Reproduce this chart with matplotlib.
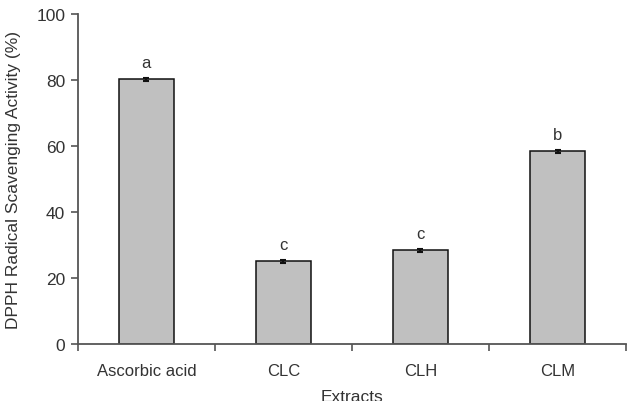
import matplotlib.pyplot as plt
import numpy as np

plt.rcParams['font.family'] = ['Liberation Sans', 'DejaVu Sans']

categories = ['Ascorbic acid', 'CLC', 'CLH', 'CLM']
values = [80.2, 25.0, 28.4, 58.4]
errors = [0.5, 0.5, 0.5, 0.5]
letters = ['a', 'c', 'c', 'b']


def main():
    fig = plt.figure(figsize=(6.33, 4.02), dpi=100)
    ax = fig.add_axes([0.123, 0.142, 0.866, 0.821])
    x = np.arange(len(categories))
    ax.bar(x, values, width=0.4, color='#c0c0c0', edgecolor='#111111', linewidth=1.1,
           yerr=errors, error_kw=dict(ecolor='#111111', elinewidth=1.5, capsize=2.5, capthick=1.5))
    for xi, v, e, t in zip(x, values, errors, letters):
        ax.text(xi, v + e + 2.2, t, ha='center', va='bottom', fontsize=12, color='#333333')

    ax.set_xlim(-0.5, len(categories) - 0.5)
    ax.set_ylim(0, 100)
    ax.set_yticks([0, 20, 40, 60, 80, 100])
    ax.set_xticks(x)
    ax.set_xticklabels(categories)
    ax.set_xticks(np.arange(-0.5, len(categories)), minor=True)
    ax.tick_params(axis='x', which='major', length=0, pad=14, labelsize=12, labelcolor='#333333')
    ax.tick_params(axis='x', which='minor', length=5, direction='out', color='#555555', width=1.2)
    ax.tick_params(axis='y', length=5, width=1.2, direction='out', pad=4, labelsize=12.5,
                   labelcolor='#333333', color='#555555')
    for s in ['top', 'right']:
        ax.spines[s].set_visible(False)
    for s in ['left', 'bottom']:
        ax.spines[s].set_color('#555555')
        ax.spines[s].set_linewidth(1.3)
    ax.set_ylabel('DPPH Radical Scavenging Activity (%)', fontsize=12.5, color='#333333', labelpad=11)
    ax.set_xlabel('Extracts', fontsize=12.5, color='#333333', labelpad=8)
    fig.savefig('out.png', dpi=100)


if __name__ == '__main__':
    main()
